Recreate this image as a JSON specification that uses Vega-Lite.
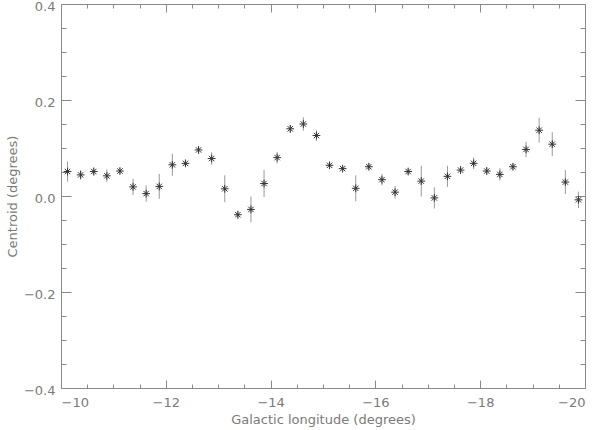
{
  "$schema": "https://vega.github.io/schema/vega-lite/v6.json",
  "width": 524,
  "height": 384,
  "autosize": {"type": "none"},
  "padding": {"left": 61, "top": 4, "right": 15, "bottom": 42},
  "config": {
    "view": {"stroke": "#8a8a8a", "strokeWidth": 1},
    "axis": {
      "grid": false,
      "domain": false,
      "labelFont": "DejaVu Sans",
      "titleFont": "DejaVu Sans",
      "labelColor": "#7a7a7a",
      "titleColor": "#7a7a7a",
      "tickColor": "#8a8a8a",
      "labelFontSize": 13,
      "titleFontSize": 13,
      "titleFontWeight": "normal"
    }
  },
  "data": {
    "values": [
      {"lon": -10.125, "c": 0.051, "lo": 0.030, "hi": 0.072},
      {"lon": -10.375, "c": 0.044, "lo": 0.034, "hi": 0.054},
      {"lon": -10.625, "c": 0.051, "lo": 0.043, "hi": 0.059},
      {"lon": -10.875, "c": 0.042, "lo": 0.029, "hi": 0.055},
      {"lon": -11.125, "c": 0.052, "lo": 0.046, "hi": 0.058},
      {"lon": -11.375, "c": 0.019, "lo": 0.002, "hi": 0.036},
      {"lon": -11.625, "c": 0.005, "lo": -0.012, "hi": 0.022},
      {"lon": -11.875, "c": 0.020, "lo": -0.006, "hi": 0.046},
      {"lon": -12.125, "c": 0.065, "lo": 0.042, "hi": 0.088},
      {"lon": -12.375, "c": 0.068, "lo": 0.062, "hi": 0.074},
      {"lon": -12.625, "c": 0.096, "lo": 0.088, "hi": 0.104},
      {"lon": -12.875, "c": 0.078, "lo": 0.065, "hi": 0.091},
      {"lon": -13.125, "c": 0.015, "lo": -0.013, "hi": 0.043},
      {"lon": -13.375, "c": -0.039, "lo": -0.047, "hi": -0.031},
      {"lon": -13.625, "c": -0.028, "lo": -0.055, "hi": -0.001},
      {"lon": -13.875, "c": 0.026, "lo": -0.002, "hi": 0.054},
      {"lon": -14.125, "c": 0.080, "lo": 0.068, "hi": 0.092},
      {"lon": -14.375, "c": 0.140, "lo": 0.132, "hi": 0.148},
      {"lon": -14.625, "c": 0.150, "lo": 0.136, "hi": 0.164},
      {"lon": -14.875, "c": 0.126, "lo": 0.115, "hi": 0.137},
      {"lon": -15.125, "c": 0.064, "lo": 0.059, "hi": 0.069},
      {"lon": -15.375, "c": 0.057, "lo": 0.052, "hi": 0.062},
      {"lon": -15.625, "c": 0.016, "lo": -0.011, "hi": 0.043},
      {"lon": -15.875, "c": 0.061, "lo": 0.054, "hi": 0.068},
      {"lon": -16.125, "c": 0.034, "lo": 0.022, "hi": 0.046},
      {"lon": -16.375, "c": 0.008, "lo": -0.005, "hi": 0.021},
      {"lon": -16.625, "c": 0.051, "lo": 0.045, "hi": 0.057},
      {"lon": -16.875, "c": 0.031, "lo": -0.001, "hi": 0.063},
      {"lon": -17.125, "c": -0.004, "lo": -0.026, "hi": 0.018},
      {"lon": -17.375, "c": 0.041, "lo": 0.019, "hi": 0.063},
      {"lon": -17.625, "c": 0.054, "lo": 0.046, "hi": 0.062},
      {"lon": -17.875, "c": 0.068, "lo": 0.056, "hi": 0.080},
      {"lon": -18.125, "c": 0.052, "lo": 0.045, "hi": 0.059},
      {"lon": -18.375, "c": 0.045, "lo": 0.032, "hi": 0.058},
      {"lon": -18.625, "c": 0.061, "lo": 0.054, "hi": 0.068},
      {"lon": -18.875, "c": 0.097, "lo": 0.081, "hi": 0.113},
      {"lon": -19.125, "c": 0.137, "lo": 0.111, "hi": 0.163},
      {"lon": -19.375, "c": 0.108, "lo": 0.083, "hi": 0.133},
      {"lon": -19.625, "c": 0.029, "lo": 0.004, "hi": 0.054},
      {"lon": -19.875, "c": -0.008, "lo": -0.025, "hi": 0.009}
    ]
  },
  "resolve": {"axis": {"x": "independent", "y": "independent"}},
  "layer": [
    {
      "mark": {"type": "rule", "color": "#9a9a9a", "strokeWidth": 1},
      "encoding": {
        "x": {
          "field": "lon", "type": "quantitative",
          "scale": {"domain": [-20, -10], "reverse": true, "nice": false, "zero": false},
          "axis": {"orient": "bottom", "values": [-10, -12, -14, -16, -18, -20], "ticks": false, "labelPadding": 8, "title": "Galactic longitude (degrees)", "titlePadding": 4}
        },
        "y": {
          "field": "lo", "type": "quantitative",
          "scale": {"domain": [-0.4, 0.4], "nice": false, "zero": false},
          "axis": {"orient": "left", "values": [-0.4, -0.2, 0, 0.2, 0.4], "format": ".1f", "ticks": false, "labelPadding": 6, "labelOffset": 2, "title": "Centroid (degrees)", "titlePadding": 4}
        },
        "y2": {"field": "hi"}
      }
    },
    {
      "mark": {"type": "point", "shape": "M-1,0L1,0M0,-1L0,1M-0.7,-0.7L0.7,0.7M-0.7,0.7L0.7,-0.7", "size": 60, "filled": false, "stroke": "#333333", "strokeWidth": 1, "opacity": 1},
      "encoding": {
        "x": {"field": "lon", "type": "quantitative", "axis": {"orient": "top", "values": [-10, -12, -14, -16, -18, -20], "labels": false, "tickSize": -8, "title": null}},
        "y": {"field": "c", "type": "quantitative", "axis": {"orient": "right", "values": [-0.4, -0.2, 0, 0.2, 0.4], "labels": false, "tickSize": -10, "title": null}}
      }
    },
    {
      "mark": {"type": "point", "opacity": 0},
      "encoding": {
        "x": {"field": "lon", "type": "quantitative", "axis": {"orient": "bottom", "values": [-10, -12, -14, -16, -18, -20], "labels": false, "tickSize": -8, "title": null}},
        "y": {"field": "c", "type": "quantitative", "axis": {"orient": "left", "values": [-0.4, -0.2, 0, 0.2, 0.4], "labels": false, "tickSize": -10, "title": null}}
      }
    },
    {
      "mark": {"type": "point", "opacity": 0},
      "encoding": {
        "x": {"field": "lon", "type": "quantitative", "axis": {"orient": "bottom", "values": [-10.5, -11, -11.5, -12.5, -13, -13.5, -14.5, -15, -15.5, -16.5, -17, -17.5, -18.5, -19, -19.5], "labels": false, "tickSize": -4, "title": null}},
        "y": {"field": "c", "type": "quantitative", "axis": {"orient": "left", "values": [-0.35, -0.3, -0.25, -0.15, -0.1, -0.05, 0.05, 0.1, 0.15, 0.25, 0.3, 0.35], "labels": false, "tickSize": -5, "title": null}}
      }
    },
    {
      "mark": {"type": "point", "opacity": 0},
      "encoding": {
        "x": {"field": "lon", "type": "quantitative", "axis": {"orient": "top", "values": [-10.5, -11, -11.5, -12.5, -13, -13.5, -14.5, -15, -15.5, -16.5, -17, -17.5, -18.5, -19, -19.5], "labels": false, "tickSize": -4, "title": null}},
        "y": {"field": "c", "type": "quantitative", "axis": {"orient": "right", "values": [-0.35, -0.3, -0.25, -0.15, -0.1, -0.05, 0.05, 0.1, 0.15, 0.25, 0.3, 0.35], "labels": false, "tickSize": -5, "title": null}}
      }
    }
  ]
}
